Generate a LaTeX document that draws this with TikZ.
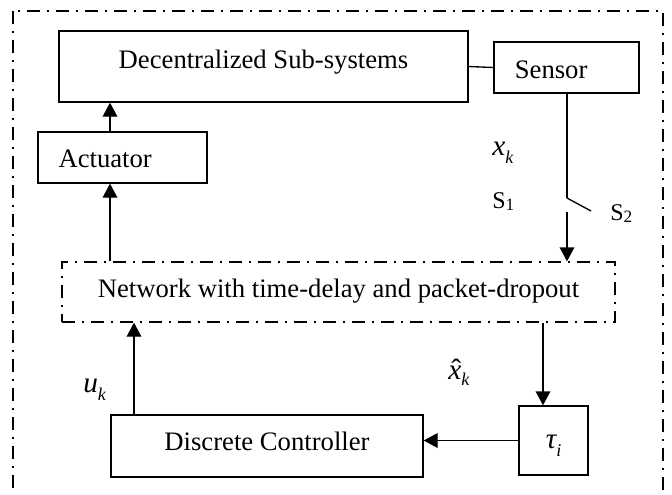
\documentclass[tikz,border=0pt]{standalone}
\usepackage{fontspec}
\setmainfont{Liberation Serif}
\usetikzlibrary{arrows.meta}
\newcommand\msym[3]{{\fontsize{22}{26}\selectfont\itshape #1}\raisebox{-#3}{\fontsize{13.5}{16}\selectfont\itshape #2}}
\newcommand\ssym[1]{{\fontsize{18}{22}\selectfont S}\raisebox{-1.5pt}{\fontsize{13}{16}\selectfont #1}}
\newcommand\hatx{\rlap{\hspace{2.4pt}{\fontsize{22}{26}\selectfont ˆ}}{\fontsize{22}{26}\selectfont\itshape x}}
\tikzset{
  box/.style={draw, line width=1pt, inner sep=0pt, text depth=5pt},
  ddash/.style={line width=1pt, dash pattern=on 9.75pt off 5.25pt on 1.5pt off 5.25pt},
  arr/.style={line width=1pt, -{Triangle[length=10.5pt,width=11pt]}},
  wire/.style={line width=1pt},
  lbl/.style={anchor=base west, inner sep=0pt}
}
\begin{document}
\begin{tikzpicture}[x=0.75pt, y=-0.75pt, font=\fontsize{20}{24}\selectfont]
\clip (0,0) rectangle (672,494);
% outer frame
\draw[ddash] (13,11) rectangle (663,520);
% boxes
\node[box, minimum width=306.75pt, minimum height=53.25pt, text height=7.25pt] (dss) at (263.5,66.5) {Decentralized Sub-systems};
\node[box, minimum width=108.75pt, minimum height=38.25pt, text height=20.75pt] (sensor) at (566.5,67.5) {Sensor\hspace*{23pt}};
\node[box, minimum width=126.75pt, minimum height=38.25pt, text height=19.25pt] (act) at (122.5,157.5) {Actuator\hspace*{26pt}};
\node[box, ddash, minimum width=414.75pt, minimum height=45pt, text height=12.5pt] (net) at (338.5,292) {Network with time-delay and packet-dropout};
\node[box, minimum width=234pt, minimum height=46.5pt, text height=11pt] (dc) at (267,446) {Discrete Controller};
\node[box, minimum width=51.75pt, minimum height=51.75pt, text height=16.25pt] (tau) at (553.5,440.5) {\msym{τ}{i}{6.5pt}};
% labels
\node[lbl] (xk) at (492,155) {\msym{x}{k}{6pt}};
\node[lbl] (s1) at (492,208) {\ssym{1}};
\node[lbl] (s2) at (610,220) {\ssym{2}};
\node[lbl] (uk) at (83,392) {\msym{u}{k}{6pt}};
\node[lbl] (xh) at (448,379) {\hatx\raisebox{-5pt}{\fontsize{13.5}{16}\selectfont\itshape k}};
% helper coordinates
\coordinate (c110) at (110,0);
\coordinate (c134) at (134,0);
\coordinate (c543) at (543,0);
\coordinate (swtop) at (567,198);
\coordinate (swend) at (591,211);
\coordinate (swbot) at (567,212);
% connectors
\draw[arr] (act.north -| c110) -- (dss.south -| c110);
\draw[arr] (net.north -| c110) -- (act.south -| c110);
\draw[wire] (dss.east) -- (sensor.west);
\draw[wire] (sensor.south -| swtop) -- (swtop);
\draw[wire] (swtop) -- (swend);
\draw[arr] (swbot) -- (net.north -| swbot);
\draw[arr] (net.south -| c543) -- (tau.north -| c543);
\draw[arr] (tau.west) -- (tau.west -| dc.east);
\draw[arr] (dc.north -| c134) -- (net.south -| c134);
\end{tikzpicture}
\end{document}
